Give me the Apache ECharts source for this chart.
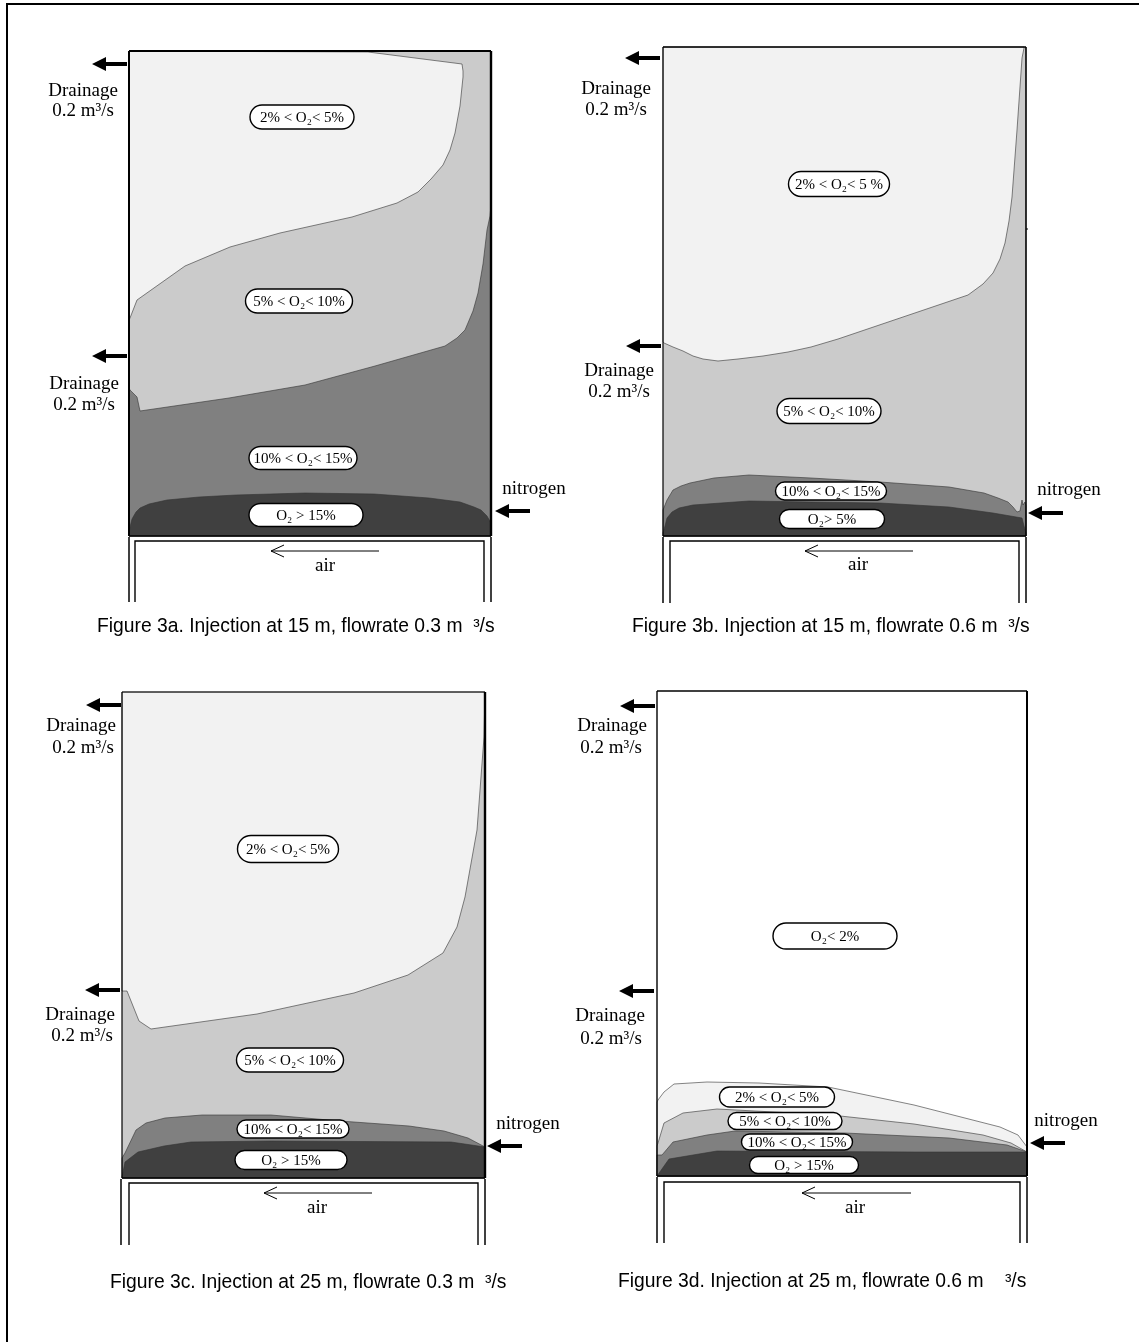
<!DOCTYPE html>
<html><head><meta charset="utf-8">
<script src="https://cdn.jsdelivr.net/npm/echarts@6/dist/echarts.min.js"></script>
<style>html,body{margin:0;padding:0;background:#fff}#c{width:1139px;height:1342px}</style>
</head><body><div id="c"></div>
<script>
const a_light=[[0,485],[239,484],[333,472],[334,465],[334,459],[331,430],[326,403],[321,386],[314,371],[302,357],[289,344],[268,333],[223,319],[151,303],[101,289],[56,270],[8,236],[1,218],[0,216]];
const a_deep=[[362,331],[361,320],[358,306],[354,272],[349,243],[344,225],[336,206],[328,198],[316,190],[246,170],[176,151],[100,138],[11,125],[8,139],[1,146],[0,148],[0,0],[362,0]];
const a_dark=[[0,0],[1,9],[3,17],[7,24],[11,28],[20,32],[38,36],[70,39],[107,41],[176,43],[245,42],[300,38],[331,34],[345,29],[352,26],[358,20],[362,13],[362,0]];

const b_light=[[0,489],[361,489],[361,488],[359,478],[354,406],[349,339],[346,315],[342,293],[337,277],[330,263],[320,252],[305,241],[240,219],[175,197],[148,189],[125,184],[100,180],[75,177],[55,175],[40,177],[30,180],[20,185],[10,189],[1,193],[0,194]];
const b_deep=[[0,26],[2,31],[4,36],[10,46],[18,50],[27,53],[51,58],[86,61],[148,58],[217,54],[286,49],[321,43],[335,38],[345,34],[350,29],[354,24],[357,25],[359,36],[360,31],[362,34],[363,30],[363,0],[0,0]];
const b_dark=[[0,3],[2,10],[4,18],[9,24],[16,28],[30,31],[44,32],[86,35],[148,34],[217,33],[286,29],[330,23],[359,18],[361,10],[363,3],[363,0],[0,0]];

const c_light=[[0,486],[363,486],[362,441],[355,348],[343,281],[335,251],[321,225],[286,203],[232,185],[135,164],[29,149],[17,157],[5,187],[0,187]];
const c_deep=[[0,20],[3,25],[14,48],[24,55],[43,60],[80,63],[149,63],[218,57],[287,52],[322,47],[346,40],[363,31],[363,0],[0,0]];
const c_dark=[[0,1],[3,16],[16,26],[42,32],[69,36],[149,37],[329,36],[363,31],[363,0],[0,0]];

const d_light=[[0,74],[1,76],[7,84],[17,92],[50,94],[102,93],[171,89],[257,71],[343,49],[361,41],[370,29],[370,0],[0,0]];
const d_mid=[[0,30],[1,33],[7,53],[26,63],[60,67],[174,61],[257,52],[326,41],[354,33],[370,24],[370,0],[0,0]];
const d_deep=[[0,21],[5,21],[16,34],[50,41],[78,45],[188,43],[292,38],[350,31],[370,24],[370,0],[0,0]];
const d_dark=[[0,0],[12,17],[60,25],[257,24],[370,24],[370,0]];

// Zone labels: [x, y, text]
const a_zones=[[173,419,'2% < O₂< 5%'],[170,235,'5% < O₂< 10%'],[174,78,'10% < O₂< 15%'],[177,21,'O₂ > 15%']];
const b_zones=[[176,352,'2% < O₂< 5 %'],[166,125,'5% < O₂< 10%'],[168,45,'10% < O₂< 15%'],[169,17,'O₂> 5%']];
const c_zones=[[166,329,'2% < O₂< 5%'],[168,118,'5% < O₂< 10%'],[171,49,'10% < O₂< 15%'],[169,18,'O₂ > 15%']];
const d_zones=[[178,240,'O₂< 2%'],[120,79,'2% < O₂< 5%'],[128,55,'5% < O₂< 10%'],[140,34,'10% < O₂< 15%'],[147,11,'O₂ > 15%']];

// Pill sizes: [width, height]
const a_pillSizes=[[104,24],[107,24],[108,23],[114,23]];
const b_pillSizes=[[101,25],[104,25],[111,18],[105,19]];
const c_pillSizes=[[101,27],[107,24],[112,18],[112,19]];
const d_pillSizes=[[124,26],[115,20],[114,17],[111,16],[109,17]];

// Arrow tips: [x, y]
const a_arrows=[[-37,472],[-37,180],[366,25]];
const b_arrows=[[-38,478],[-37,190],[365,23]];
const c_arrows=[[-36,473],[-37,188],[365,32]];
const d_arrows=[[-37,470],[-38,185],[373,33]];

// Free text: [x, y, text]
const a_notes=[[-46,445,'Drainage'],[-46,425,'0.2 m³/s'],[-45,152,'Drainage'],[-45,131,'0.2 m³/s'],[405,47,'nitrogen'],[196,-30,'air']];
const b_notes=[[-47,447,'Drainage'],[-47,426,'0.2 m³/s'],[-44,165,'Drainage'],[-44,144,'0.2 m³/s'],[406,46,'nitrogen'],[195,-29,'air']];
const c_notes=[[-41,452,'Drainage'],[-39,430,'0.2 m³/s'],[-42,163,'Drainage'],[-40,142,'0.2 m³/s'],[406,54,'nitrogen'],[195,-30,'air']];
const d_notes=[[-45,450,'Drainage'],[-46,428,'0.2 m³/s'],[-47,160,'Drainage'],[-46,137,'0.2 m³/s'],[409,55,'nitrogen'],[198,-32,'air']];

// Chamber under each panel: [left outer, left inner, right inner, right outer], and air arrow [tail x, tip x, y]
const a_chamber=[0,6,355,362]; const a_air=[250,142,-15];
const b_chamber=[0,7,356,363]; const b_air=[250,142,-15];
const c_chamber=[-1,7,356,363]; const c_air=[250,142,-15];
const d_chamber=[0,7,363,370]; const d_air=[254,145,-17];

const captions=['Figure 3a. Injection at 15 m, flowrate 0.3 m  ³/s','Figure 3b. Injection at 15 m, flowrate 0.6 m  ³/s','Figure 3c. Injection at 25 m, flowrate 0.3 m  ³/s','Figure 3d. Injection at 25 m, flowrate 0.6 m    ³/s'];

const LIGHT='#f2f2f2',MID='#cbcbcb',DEEP='#808080',DARK='#404040';
const SERIF='"Liberation Serif","Times New Roman",serif', SANS='"Liberation Sans",Arial,sans-serif';

const panels=[
 {left:129,top:51,w:362,h:485,bg:MID,layers:[[a_light,LIGHT],[a_deep,DEEP],[a_dark,DARK]],zones:a_zones,pills:a_pillSizes,arrows:a_arrows,notes:a_notes,chamber:a_chamber,air:a_air,frame:[2,2.4,0,2],cap:[97,627],chDepth:[-5,-66]},
 {left:663,top:47,w:363,h:489,bg:MID,layers:[[b_light,LIGHT],[b_deep,DEEP],[b_dark,DARK]],zones:b_zones,pills:b_pillSizes,arrows:b_arrows,notes:b_notes,chamber:b_chamber,air:b_air,frame:[1.6,1.6,0,1.2],cap:[632,627],chDepth:[-5,-67],ticks:[[363,307]]},
 {left:122,top:692,w:363,h:486,bg:MID,layers:[[c_light,LIGHT],[c_deep,DEEP],[c_dark,DARK]],zones:c_zones,pills:c_pillSizes,arrows:c_arrows,notes:c_notes,chamber:c_chamber,air:c_air,frame:[1.2,2.4,0,1.2],cap:[110,1283],chDepth:[-5,-67]},
 {left:657,top:691,w:370,h:485,bg:'#ffffff',layers:[[d_light,LIGHT],[d_mid,MID],[d_deep,DEEP],[d_dark,DARK]],zones:d_zones,pills:d_pillSizes,arrows:d_arrows,notes:d_notes,chamber:d_chamber,air:d_air,frame:[1.6,2,0,1.4],cap:[618,1282],chDepth:[-6,-67]}
];

const once=(fn)=>(p,api)=>p.dataIndex===0?fn(api):null;
const grids=[],xs=[],ys=[],series=[];
panels.forEach((P,i)=>{
  grids.push({left:P.left,top:P.top,width:P.w,height:P.h,show:false,outerBoundsMode:'none'});
  xs.push({type:'value',gridIndex:i,min:0,max:P.w,show:false});
  ys.push({type:'value',gridIndex:i,min:0,max:P.h,show:false});
  const base={type:'custom',xAxisIndex:i,yAxisIndex:i,silent:true,clip:false,animation:false,encode:{x:0,y:1}};
  let z=2;
  series.push({...base,z:z++,data:[[0,0],[P.w,P.h]],renderItem:once(api=>({type:'polygon',shape:{points:[[0,0],[P.w,0],[P.w,P.h],[0,P.h]].map(q=>api.coord(q))},style:{fill:P.bg,stroke:null}}))});
  P.layers.forEach(([pts,fill])=>{
    series.push({...base,z:z++,data:pts,renderItem:once(api=>({type:'polygon',shape:{points:pts.map(q=>api.coord(q))},style:{fill,stroke:'#333',lineWidth:0.6}}))});
  });
  series.push({...base,z:z++,data:[[0,0]],renderItem:once(api=>{
    const c=q=>api.coord(q),ch=[];
    const ln=(pts,w)=>ch.push({type:'polyline',shape:{points:pts.map(c)},style:{fill:null,stroke:'#000',lineWidth:w}});
    const [t,r,b,l]=P.frame;
    ln([[0,P.h],[P.w,P.h]],t); ln([[P.w,0],[P.w,P.h]],r); ln([[0,0],[0,P.h]],l); ln([[0,0],[P.w,0]],1.4);
    const [o1,i1,i2,o2]=P.chamber,[dTop,dEnd]=P.chDepth;
    ln([[o1,-1],[o1,dEnd]],1.5); ln([[o2,-1],[o2,dEnd]],1.5);
    ln([[i1,dEnd],[i1,dTop],[i2,dTop],[i2,dEnd]],1.4);
    const [tail,tip,ay]=P.air;
    ln([[tail,ay],[tip,ay]],1);
    ln([[tip+13,ay+6],[tip,ay],[tip+13,ay-6]],1);
    (P.ticks||[]).forEach(q=>ln([q,[q[0]+2,q[1]]],1.2));
    return {type:'group',children:ch};
  })});
  series.push({...base,z:z++,data:P.arrows,renderItem:(p,api)=>{
    const [x,y]=api.coord([api.value(0),api.value(1)]);
    return {type:'polygon',shape:{points:[[x,y],[x+14,y-7],[x+14,y-2],[x+35,y-2],[x+35,y+2],[x+14,y+2],[x+14,y+7]]},style:{fill:'#000'}};
  }});
  series.push({...base,z:z++,data:P.zones,renderItem:(p,api)=>{
    const Z=P.zones[p.dataIndex],[w,h]=P.pills[p.dataIndex],[x,y]=api.coord([Z[0],Z[1]]);
    return {type:'group',children:[
      {type:'rect',shape:{x:x-w/2,y:y-h/2,width:w,height:h,r:h/2},style:{fill:'#fff',stroke:'#000',lineWidth:1.4}},
      {type:'text',z2:2,style:{x,y:y+1,text:Z[2],align:'center',verticalAlign:'middle',fontFamily:SERIF,fontSize:15,fill:'#000'}}
    ]};
  }});
  series.push({...base,z:z++,data:P.notes,renderItem:(p,api)=>{
    const N=P.notes[p.dataIndex],[x,y]=api.coord([N[0],N[1]]);
    return {type:'text',style:{x,y,text:N[2],align:'center',verticalAlign:'middle',fontFamily:SERIF,fontSize:19,fill:'#000'}};
  }});
  series.push({...base,z:z++,data:[[0,0]],renderItem:once(api=>({type:'text',style:{x:P.cap[0],y:P.cap[1],text:captions[i],align:'left',verticalAlign:'middle',fontFamily:SANS,fontSize:19.3,fill:'#000'}}))});
});

const chart=echarts.init(document.getElementById('c'),null,{renderer:'canvas'});
chart.setOption({
  animation:false,backgroundColor:'#fff',
  grid:grids,xAxis:xs,yAxis:ys,series,
  graphic:[{type:'polyline',shape:{points:[[7,1342],[7,4],[1139,4]]},style:{fill:null,stroke:'#000',lineWidth:2},silent:true}]
});
</script></body></html>
